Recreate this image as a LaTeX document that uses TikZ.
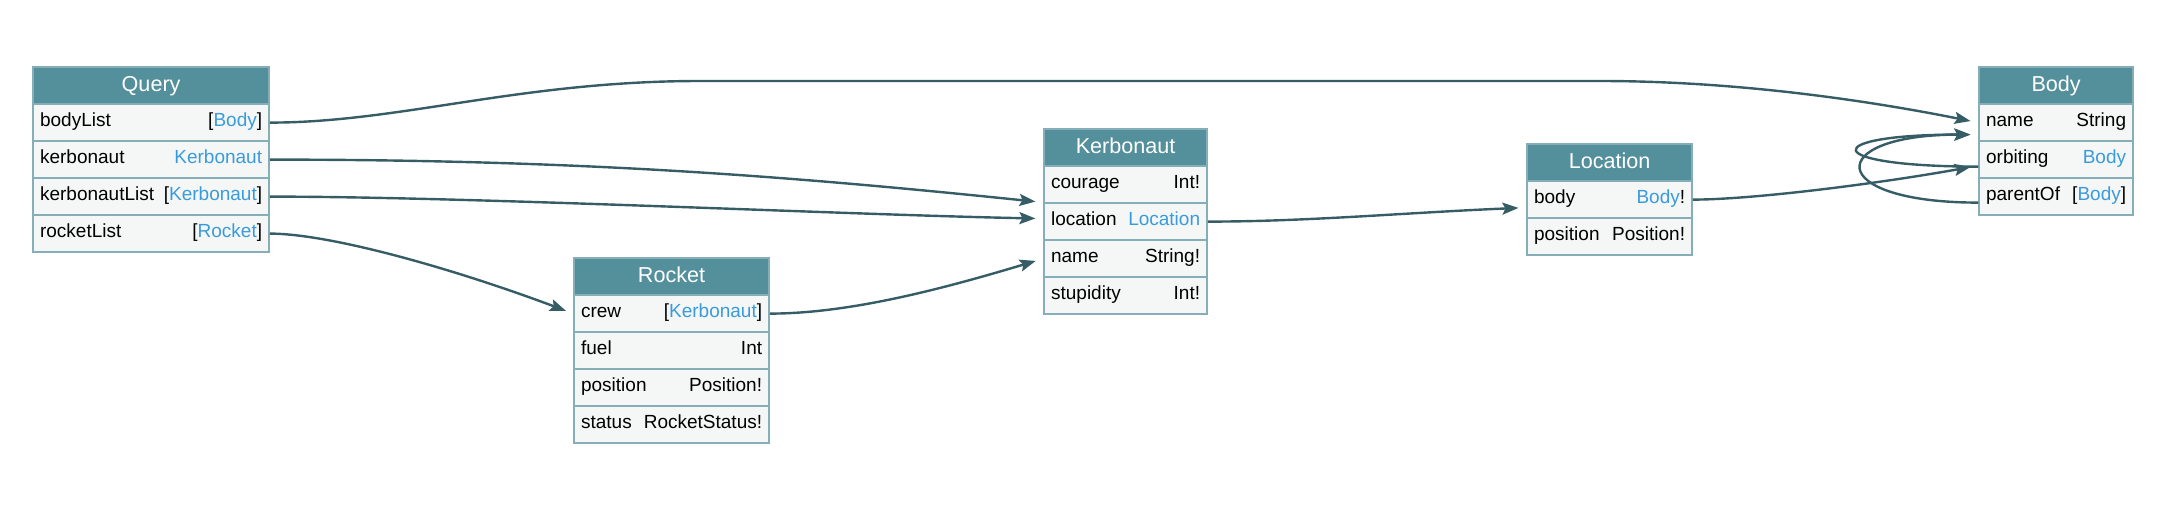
\documentclass[tikz,border=0pt]{standalone}
\usepackage{fontspec}
\setmainfont{Liberation Sans}
\usetikzlibrary{matrix,positioning,arrows.meta}
\definecolor{headcol}{HTML}{548F9C}
\definecolor{linecol}{HTML}{86AEB8}
\definecolor{rowcol}{HTML}{F5F7F7}
\definecolor{typecol}{HTML}{3A9BDC}
\definecolor{edgecol}{HTML}{365C66}
\newcommand{\tref}[1]{\textcolor{typecol}{#1}}
\newcommand{\fld}[2]{#1\hskip 0pt plus 1filll #2}
\tikzset{
cellrow/.style={
  draw=linecol,
  fill=rowcol,
  line width=0.7pt,
  inner xsep=3.5pt,
  inner ysep=0pt,
  minimum height=18.5pt,
  text height=6.5pt,
  text depth=2.5pt,
  align=left,
  font=\fontsize{9.5}{11}\selectfont
  },
hdr/.style={
  fill=headcol,
  text=white,
  align=center,
  text height=7.5pt,
  text depth=1.5pt,
  font=\fontsize{10.8}{12}\selectfont
  },
mytbl/.style={
  matrix of nodes,
  inner sep=0pt,
  row sep=-0.7pt,
  anchor=north west,
  nodes={cellrow, text width=#1},
  row 1/.style={nodes={hdr}}
  }
}
\tikzset{
  link/.style={draw=edgecol, line width=1.2pt, shorten >=4pt,
    -{Stealth[length=8pt,width=6pt,inset=1.5pt]}}
}
\begin{document}
\begin{tikzpicture}[x=0.5pt,y=-0.5pt]
\useasboundingbox (0,0) rectangle (2170,526);
\matrix[mytbl={111pt}]
at (32,66)
(query)
{
  Query \\
  \fld{bodyList}{[\tref{Body}]} \\
  \fld{kerbonaut}{\tref{Kerbonaut}} \\
  \fld{kerbonautList}{[\tref{Kerbonaut}]} \\
  \fld{rocketList}{[\tref{Rocket}]} \\ };
\matrix[mytbl={90.5pt}]
at (573,257)
(rocket)
{ Rocket \\
  \fld{crew}{[\tref{Kerbonaut}]} \\
  \fld{fuel}{Int} \\
  \fld{position}{Position!} \\
  \fld{status}{RocketStatus!} \\ };
\matrix[mytbl={74.5pt}]
at (1043,128)
(kerbonaut)
{ Kerbonaut \\
  \fld{courage}{Int!} \\
  \fld{location}{\tref{Location}} \\
  \fld{name}{String!} \\
  \fld{stupidity}{Int!} \\ };
\matrix[mytbl={75.5pt}]
at (1526,143)
(location)
{ Location \\
  \fld{body}{\tref{Body}!} \\
  \fld{position}{Position!} \\ };
\matrix[mytbl={70pt}]
at (1978,66)
(body)
{ Body \\
  \fld{name}{String} \\
  \fld{orbiting}{\tref{Body}} \\
  \fld{parentOf}{[\tref{Body}]} \\ };

\coordinate (bl1) at (700,81);
\coordinate (bl2) at (1600,81);

\draw[link] (query-2-1.east) .. controls +(130,0) and +(-180,0) .. (bl1)
  -- (bl2) .. controls +(150,0) and +(-90,-18) .. (body-2-1.west);
\draw[link] (query-3-1.east) .. controls +(320,0) and +(-243,-25) .. (kerbonaut-3-1.north west);
\draw[link] (query-4-1.east) .. controls +(200,0) and +(-200,-4) .. ([yshift=1.5pt]kerbonaut-3-1.west);
\draw[link] (query-5-1.east) .. controls +(60,0) and +(-120,-45) .. (rocket-2-1.west);
\draw[link] (rocket-2-1.east) .. controls +(80,0) and +(-100,30) .. (kerbonaut-4-1.west);
\draw[link] (kerbonaut-3-1.east) .. controls +(100,0) and +(-120,5) .. ([yshift=-4pt]location-2-1.west);
\draw[link] (location-2-1.east) .. controls +(60,0) and +(-100,18) .. ([yshift=-3pt]body-3-1.west);
\draw[link] ([yshift=-3.5pt]body-3-1.west) .. controls +(-160,0) and +(-160,0) .. ([yshift=-6pt]body-2-1.west);
\draw[link] ([yshift=-3pt]body-4-1.west) .. controls +(-155,0) and +(-155,0) .. ([yshift=-6pt]body-2-1.west);
\end{tikzpicture}
\end{document}
